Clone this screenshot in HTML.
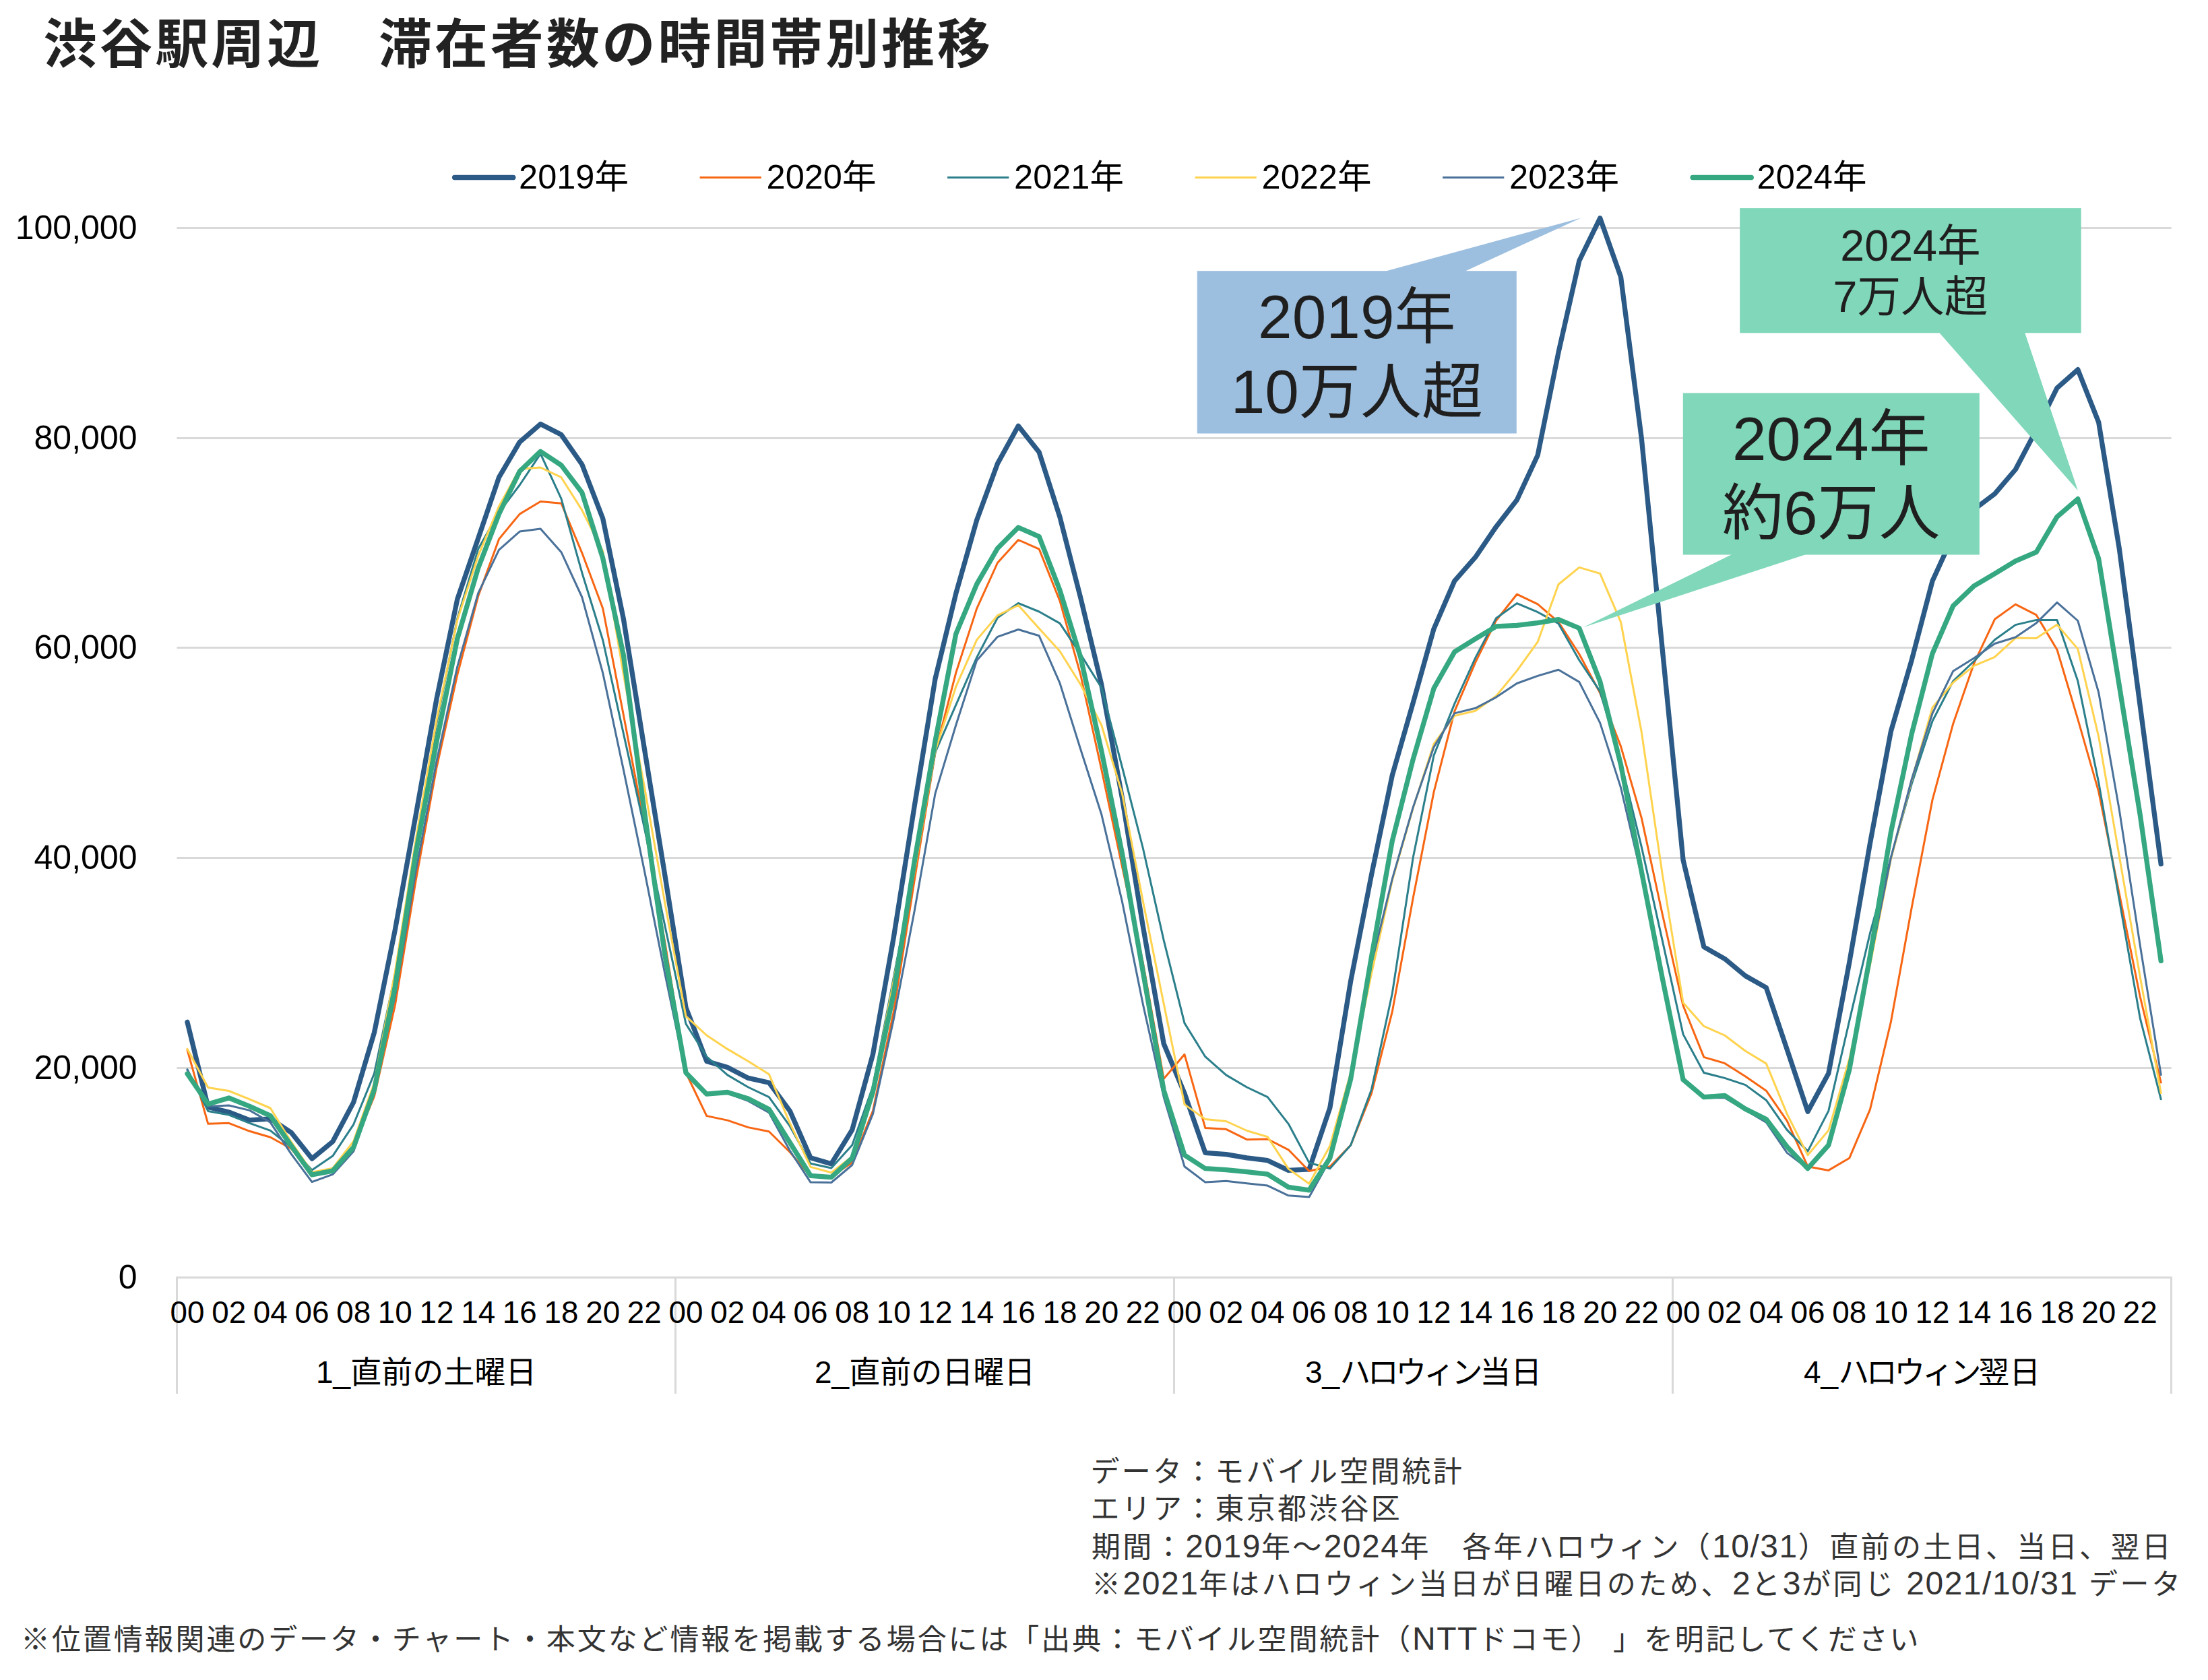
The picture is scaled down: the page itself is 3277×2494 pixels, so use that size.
<!DOCTYPE html>
<html lang="ja"><head><meta charset="utf-8"><title>渋谷駅周辺 滞在者数の時間帯別推移</title>
<style>
html,body{margin:0;padding:0;background:#fff;}
body{width:3277px;height:2494px;position:relative;overflow:hidden;font-family:"Liberation Sans","Noto Sans CJK JP",sans-serif;color:#000;}
.t{position:absolute;white-space:nowrap;line-height:1;}
#title{left:64.6px;top:27px;font-size:79px;font-weight:700;color:#222;font-family:"Liberation Sans","Noto Sans CJK JP",sans-serif;letter-spacing:3.9px;}
.yl{font-size:50px;text-align:right;width:200px;left:3.5px;}
.xl{font-size:45.8px;text-align:center;width:80px;}
.dl{font-size:46px;text-align:center;width:740px;}
.lg{font-size:50.5px;}
.k{letter-spacing:-4.4px;}
.co{position:absolute;text-align:center;color:#1f1f1f;white-space:nowrap;}
.n{font-size:48px;letter-spacing:1.5px;}
.note{position:absolute;white-space:nowrap;color:#333;font-size:43px;line-height:55.2px;font-family:"Liberation Sans","Noto Sans CJK JP",sans-serif;}
svg{position:absolute;left:0;top:0;}
</style></head><body>
<div id="title" class="t">渋谷駅周辺　滞在者数の時間帯別推移</div>
<svg width="3277" height="2494" viewBox="0 0 3277 2494" fill="none">
<line x1="262.5" y1="1585.50" x2="3222.6" y2="1585.50" stroke="#d9d9d9" stroke-width="3"/>
<line x1="262.5" y1="1273.50" x2="3222.6" y2="1273.50" stroke="#d9d9d9" stroke-width="3"/>
<line x1="262.5" y1="961.50" x2="3222.6" y2="961.50" stroke="#d9d9d9" stroke-width="3"/>
<line x1="262.5" y1="650.50" x2="3222.6" y2="650.50" stroke="#d9d9d9" stroke-width="3"/>
<line x1="262.5" y1="338.50" x2="3222.6" y2="338.50" stroke="#d9d9d9" stroke-width="3"/>
<line x1="261.2" y1="1896.50" x2="3224.0" y2="1896.50" stroke="#d9d9d9" stroke-width="3"/>
<line x1="262.50" y1="1896.50" x2="262.50" y2="2069" stroke="#d9d9d9" stroke-width="3"/>
<line x1="1002.50" y1="1896.50" x2="1002.50" y2="2069" stroke="#d9d9d9" stroke-width="3"/>
<line x1="1742.50" y1="1896.50" x2="1742.50" y2="2069" stroke="#d9d9d9" stroke-width="3"/>
<line x1="2482.50" y1="1896.50" x2="2482.50" y2="2069" stroke="#d9d9d9" stroke-width="3"/>
<line x1="3222.50" y1="1896.50" x2="3222.50" y2="2069" stroke="#d9d9d9" stroke-width="3"/>
<polyline points="278.0,1517.3 308.8,1643.4 339.7,1651.0 370.5,1662.9 401.3,1660.9 432.2,1681.3 463.0,1720.1 493.8,1694.8 524.7,1636.4 555.5,1532.8 586.3,1380.6 617.2,1209.7 648.0,1037.5 678.8,889.5 709.7,799.3 740.5,708.7 771.3,656.2 802.2,629.4 833.0,645.3 863.8,689.5 894.7,769.8 925.5,919.6 956.3,1111.2 987.2,1301.6 1018.0,1495.7 1048.8,1575.5 1079.7,1584.6 1110.5,1600.4 1141.3,1607.2 1172.2,1649.1 1203.0,1718.8 1233.8,1727.7 1264.7,1677.4 1295.5,1565.3 1326.3,1391.6 1357.2,1196.5 1388.0,1007.7 1418.8,880.8 1449.7,772.1 1480.5,688.3 1511.3,632.2 1542.2,671.3 1573.0,767.6 1603.8,887.6 1634.7,1015.9 1665.5,1184.9 1696.3,1375.0 1727.2,1549.5 1758.0,1623.1 1788.8,1711.4 1819.7,1713.6 1850.5,1718.8 1881.3,1722.7 1912.2,1737.4 1943.0,1735.8 1973.8,1644.6 2004.7,1456.1 2035.5,1298.6 2066.3,1151.0 2097.2,1043.3 2128.0,933.6 2158.8,862.3 2189.7,827.2 2220.5,781.9 2251.3,742.3 2282.2,675.7 2313.0,523.1 2343.8,387.2 2374.7,323.8 2405.5,411.0 2436.3,651.0 2467.2,963.6 2498.0,1276.6 2528.8,1405.7 2559.7,1423.3 2590.5,1448.7 2621.3,1466.1 2652.2,1557.8 2683.0,1650.2 2713.8,1593.6 2744.7,1428.8 2775.5,1251.7 2806.3,1086.1 2837.2,979.9 2868.0,862.5 2898.8,795.1 2929.7,756.3 2960.5,733.2 2991.3,697.0 3022.2,638.1 3053.0,575.9 3083.8,548.7 3114.7,626.8 3145.5,815.7 3176.3,1048.3 3207.2,1282.7" stroke="#2c5a86" stroke-width="7.3" stroke-linejoin="round" stroke-linecap="round"/>
<polyline points="278.0,1558.7 308.8,1668.3 339.7,1667.3 370.5,1679.3 401.3,1688.2 432.2,1705.2 463.0,1743.0 493.8,1737.1 524.7,1701.2 555.5,1627.5 586.3,1492.5 617.2,1306.7 648.0,1139.3 678.8,1001.6 709.7,885.0 740.5,800.4 771.3,763.1 802.2,744.5 833.0,747.2 863.8,820.8 894.7,903.2 925.5,1062.0 956.3,1224.6 987.2,1401.0 1018.0,1592.5 1048.8,1656.6 1079.7,1663.1 1110.5,1673.6 1141.3,1679.7 1172.2,1710.2 1203.0,1746.5 1233.8,1746.5 1264.7,1726.1 1295.5,1649.1 1326.3,1501.9 1357.2,1306.5 1388.0,1117.4 1418.8,998.6 1449.7,903.4 1480.5,835.5 1511.3,801.5 1542.2,815.1 1573.0,892.1 1603.8,1001.9 1634.7,1141.9 1665.5,1286.8 1696.3,1428.9 1727.2,1601.5 1758.0,1565.3 1788.8,1674.5 1819.7,1676.3 1850.5,1691.7 1881.3,1691.0 1912.2,1706.8 1943.0,1738.5 1973.8,1731.7 2004.7,1700.0 2035.5,1623.1 2066.3,1501.9 2097.2,1333.3 2128.0,1175.9 2158.8,1055.9 2189.7,983.4 2220.5,921.2 2251.3,882.2 2282.2,896.9 2313.0,923.4 2343.8,971.0 2374.7,1028.7 2405.5,1107.9 2436.3,1214.4 2467.2,1357.0 2498.0,1492.8 2528.8,1569.4 2559.7,1578.4 2590.5,1598.1 2621.3,1619.2 2652.2,1663.8 2683.0,1731.7 2713.8,1737.4 2744.7,1719.3 2775.5,1646.8 2806.3,1517.4 2837.2,1347.6 2868.0,1187.4 2898.8,1074.2 2929.7,984.9 2960.5,919.3 2991.3,897.1 3022.2,912.9 3053.0,964.5 3083.8,1067.6 3114.7,1175.1 3145.5,1327.6 3176.3,1480.0 3207.2,1607.0" stroke="#f76613" stroke-width="3.0" stroke-linejoin="round" stroke-linecap="round"/>
<polyline points="278.0,1587.6 308.8,1649.4 339.7,1655.0 370.5,1667.3 401.3,1678.3 432.2,1703.2 463.0,1737.1 493.8,1716.1 524.7,1669.3 555.5,1593.6 586.3,1446.3 617.2,1251.0 648.0,1073.4 678.8,918.2 709.7,815.1 740.5,760.8 771.3,720.0 802.2,673.6 833.0,740.4 863.8,850.2 894.7,950.3 925.5,1089.6 956.3,1228.8 987.2,1376.0 1018.0,1520.0 1048.8,1568.7 1079.7,1595.9 1110.5,1614.0 1141.3,1628.7 1172.2,1671.7 1203.0,1727.2 1233.8,1734.0 1264.7,1700.0 1295.5,1612.9 1326.3,1451.0 1357.2,1289.1 1388.0,1117.0 1418.8,1046.4 1449.7,975.9 1480.5,917.0 1511.3,895.5 1542.2,908.0 1573.0,925.4 1603.8,971.4 1634.7,1020.8 1665.5,1139.0 1696.3,1259.0 1727.2,1395.8 1758.0,1518.9 1788.8,1568.7 1819.7,1595.9 1850.5,1614.0 1881.3,1628.7 1912.2,1668.3 1943.0,1726.1 1973.8,1734.7 2004.7,1700.0 2035.5,1617.4 2066.3,1474.8 2097.2,1273.2 2128.0,1121.5 2158.8,1044.6 2189.7,976.6 2220.5,917.8 2251.3,895.6 2282.2,908.7 2313.0,925.7 2343.8,980.0 2374.7,1026.5 2405.5,1130.6 2436.3,1257.4 2467.2,1396.2 2498.0,1535.4 2528.8,1592.5 2559.7,1600.4 2590.5,1610.6 2621.3,1633.2 2652.2,1677.4 2683.0,1709.1 2713.8,1649.1 2744.7,1515.7 2775.5,1385.2 2806.3,1273.6 2837.2,1163.8 2868.0,1070.5 2898.8,1011.0 2929.7,981.5 2960.5,949.8 2991.3,927.6 3022.2,920.4 3053.0,920.4 3083.8,1011.0 3114.7,1161.6 3145.5,1336.7 3176.3,1511.9 3207.2,1631.8" stroke="#2b7f8b" stroke-width="3.0" stroke-linejoin="round" stroke-linecap="round"/>
<polyline points="278.0,1557.3 308.8,1614.5 339.7,1619.5 370.5,1631.8 401.3,1645.0 432.2,1695.2 463.0,1740.1 493.8,1734.1 524.7,1694.2 555.5,1607.5 586.3,1442.8 617.2,1246.3 648.0,1068.8 678.8,920.2 709.7,825.2 740.5,751.7 771.3,696.2 802.2,694.0 833.0,708.7 863.8,757.4 894.7,818.5 925.5,1002.0 956.3,1167.7 987.2,1342.5 1018.0,1508.7 1048.8,1537.0 1079.7,1557.4 1110.5,1575.5 1141.3,1594.7 1172.2,1667.2 1203.0,1732.4 1233.8,1740.8 1264.7,1717.0 1295.5,1617.4 1326.3,1455.5 1357.2,1293.6 1388.0,1114.7 1418.8,1019.2 1449.7,949.9 1480.5,913.6 1511.3,898.5 1542.2,932.9 1573.0,966.8 1603.8,1016.2 1634.7,1076.2 1665.5,1178.1 1696.3,1337.8 1727.2,1490.1 1758.0,1639.6 1788.8,1661.5 1819.7,1664.5 1850.5,1678.5 1881.3,1687.6 1912.2,1735.1 1943.0,1757.3 1973.8,1701.2 2004.7,1592.5 2035.5,1445.3 2066.3,1307.2 2097.2,1199.6 2128.0,1104.5 2158.8,1062.6 2189.7,1055.3 2220.5,1033.3 2251.3,995.9 2282.2,952.9 2313.0,867.5 2343.8,842.4 2374.7,851.4 2405.5,923.4 2436.3,1086.9 2467.2,1297.6 2498.0,1488.6 2528.8,1523.4 2559.7,1537.0 2590.5,1560.3 2621.3,1578.9 2652.2,1653.6 2683.0,1714.8 2713.8,1678.1 2744.7,1572.1 2775.5,1432.5 2806.3,1275.9 2837.2,1158.3 2868.0,1050.5 2898.8,1013.2 2929.7,988.3 2960.5,975.4 2991.3,947.1 3022.2,947.6 3053.0,927.2 3083.8,963.4 3114.7,1093.6 3145.5,1272.0 3176.3,1450.4 3207.2,1622.7" stroke="#ffd34e" stroke-width="3.0" stroke-linejoin="round" stroke-linecap="round"/>
<polyline points="278.0,1588.6 308.8,1642.4 339.7,1641.0 370.5,1648.4 401.3,1666.3 432.2,1713.2 463.0,1754.6 493.8,1743.4 524.7,1709.2 555.5,1619.5 586.3,1478.9 617.2,1293.1 648.0,1129.8 678.8,989.6 709.7,880.7 740.5,816.3 771.3,789.1 802.2,785.0 833.0,819.7 863.8,886.5 894.7,999.1 925.5,1143.4 956.3,1292.1 987.2,1447.1 1018.0,1594.7 1048.8,1624.2 1079.7,1623.1 1110.5,1634.4 1141.3,1651.8 1172.2,1708.0 1203.0,1755.1 1233.8,1755.5 1264.7,1729.5 1295.5,1653.6 1326.3,1513.2 1357.2,1352.3 1388.0,1178.1 1418.8,1076.2 1449.7,980.4 1480.5,945.3 1511.3,934.5 1542.2,943.8 1573.0,1014.2 1603.8,1112.5 1634.7,1208.7 1665.5,1338.7 1696.3,1490.6 1727.2,1628.7 1758.0,1731.7 1788.8,1755.1 1819.7,1753.3 1850.5,1756.7 1881.3,1760.1 1912.2,1774.8 1943.0,1777.0 1973.8,1721.6 2004.7,1597.0 2035.5,1430.8 2066.3,1304.9 2097.2,1198.5 2128.0,1109.1 2158.8,1058.9 2189.7,1051.3 2220.5,1035.1 2251.3,1014.5 2282.2,1003.4 2313.0,994.3 2343.8,1012.4 2374.7,1073.1 2405.5,1169.1 2436.3,1300.4 2467.2,1444.2 2498.0,1603.8 2528.8,1629.8 2559.7,1629.8 2590.5,1648.0 2621.3,1666.1 2652.2,1711.4 2683.0,1734.7 2713.8,1700.0 2744.7,1581.2 2775.5,1426.9 2806.3,1273.7 2837.2,1156.9 2868.0,1059.0 2898.8,996.2 2929.7,977.0 2960.5,955.5 2991.3,946.0 3022.2,924.9 3053.0,894.3 3083.8,921.5 3114.7,1028.0 3145.5,1203.2 3176.3,1403.9 3207.2,1595.5" stroke="#4a7199" stroke-width="3.0" stroke-linejoin="round" stroke-linecap="round"/>
<polyline points="278.0,1594.0 308.8,1639.0 339.7,1629.9 370.5,1642.4 401.3,1656.4 432.2,1700.8 463.0,1744.0 493.8,1738.1 524.7,1703.2 555.5,1617.5 586.3,1464.9 617.2,1265.6 648.0,1100.9 678.8,948.0 709.7,843.2 740.5,763.1 771.3,699.6 802.2,670.2 833.0,690.6 863.8,731.3 894.7,828.7 925.5,973.2 956.3,1204.8 987.2,1420.2 1018.0,1592.5 1048.8,1624.2 1079.7,1621.5 1110.5,1631.0 1141.3,1646.8 1172.2,1696.0 1203.0,1745.3 1233.8,1747.6 1264.7,1719.3 1295.5,1620.8 1326.3,1474.7 1357.2,1278.7 1388.0,1100.2 1418.8,940.8 1449.7,867.2 1480.5,814.0 1511.3,783.0 1542.2,796.6 1573.0,876.3 1603.8,975.9 1634.7,1114.5 1665.5,1267.1 1696.3,1442.3 1727.2,1618.5 1758.0,1714.8 1788.8,1734.7 1819.7,1736.7 1850.5,1739.7 1881.3,1743.1 1912.2,1762.3 1943.0,1766.8 1973.8,1719.3 2004.7,1601.5 2035.5,1420.3 2066.3,1248.3 2097.2,1127.2 2128.0,1021.9 2158.8,967.6 2189.7,948.3 2220.5,929.8 2251.3,928.4 2282.2,924.6 2313.0,919.6 2343.8,932.5 2374.7,1011.7 2405.5,1135.1 2436.3,1293.9 2467.2,1452.1 2498.0,1602.7 2528.8,1628.7 2559.7,1626.4 2590.5,1646.4 2621.3,1661.5 2652.2,1702.3 2683.0,1734.7 2713.8,1700.0 2744.7,1588.0 2775.5,1419.0 2806.3,1236.1 2837.2,1089.5 2868.0,970.2 2898.8,899.3 2929.7,869.8 2960.5,851.7 2991.3,832.9 3022.2,819.7 3053.0,767.2 3083.8,740.7 3114.7,829.5 3145.5,1018.9 3176.3,1210.2 3207.2,1426.4" stroke="#35a881" stroke-width="7.3" stroke-linejoin="round" stroke-linecap="round"/>
<line x1="674.6" y1="263.5" x2="761.8" y2="263.5" stroke="#2c5a86" stroke-width="7.3" stroke-linecap="round"/>
<line x1="1038.6" y1="263.5" x2="1129.8" y2="263.5" stroke="#f76613" stroke-width="3.0"/>
<line x1="1406.1" y1="263.5" x2="1497.3" y2="263.5" stroke="#2b7f8b" stroke-width="3.0"/>
<line x1="1773.6" y1="263.5" x2="1864.8" y2="263.5" stroke="#ffd34e" stroke-width="3.0"/>
<line x1="2141.1" y1="263.5" x2="2232.3" y2="263.5" stroke="#4a7199" stroke-width="3.0"/>
<line x1="2512.1" y1="263.5" x2="2599.3" y2="263.5" stroke="#35a881" stroke-width="7.3" stroke-linecap="round"/>
<polygon points="2055,403 2346.5,323.4 2173.7,403" fill="#9dbfdf"/>
<rect x="1776.8" y="402.2" width="474" height="241.3" fill="#9dbfdf"/>
<polygon points="2878.3,494 3083.9,728.3 3005.2,494" fill="#80d7ba"/>
<rect x="2582.2" y="309.1" width="506.5" height="185.2" fill="#80d7ba"/>
<polygon points="2570.4,823 2350,931.3 2680.4,823" fill="#80d7ba"/>
<rect x="2497.8" y="583.5" width="440" height="240" fill="#80d7ba"/>
</svg>
<div class="t yl" style="top:1870.5px">0</div>
<div class="t yl" style="top:1559.5px">20,000</div>
<div class="t yl" style="top:1247.5px">40,000</div>
<div class="t yl" style="top:935.5px">60,000</div>
<div class="t yl" style="top:624.5px">80,000</div>
<div class="t yl" style="top:312.5px">100,000</div>
<div class="t xl" style="left:238.0px;top:1926px">00</div>
<div class="t xl" style="left:299.7px;top:1926px">02</div>
<div class="t xl" style="left:361.3px;top:1926px">04</div>
<div class="t xl" style="left:423.0px;top:1926px">06</div>
<div class="t xl" style="left:484.7px;top:1926px">08</div>
<div class="t xl" style="left:546.3px;top:1926px">10</div>
<div class="t xl" style="left:608.0px;top:1926px">12</div>
<div class="t xl" style="left:669.7px;top:1926px">14</div>
<div class="t xl" style="left:731.3px;top:1926px">16</div>
<div class="t xl" style="left:793.0px;top:1926px">18</div>
<div class="t xl" style="left:854.7px;top:1926px">20</div>
<div class="t xl" style="left:916.3px;top:1926px">22</div>
<div class="t xl" style="left:978.0px;top:1926px">00</div>
<div class="t xl" style="left:1039.7px;top:1926px">02</div>
<div class="t xl" style="left:1101.3px;top:1926px">04</div>
<div class="t xl" style="left:1163.0px;top:1926px">06</div>
<div class="t xl" style="left:1224.7px;top:1926px">08</div>
<div class="t xl" style="left:1286.3px;top:1926px">10</div>
<div class="t xl" style="left:1348.0px;top:1926px">12</div>
<div class="t xl" style="left:1409.7px;top:1926px">14</div>
<div class="t xl" style="left:1471.3px;top:1926px">16</div>
<div class="t xl" style="left:1533.0px;top:1926px">18</div>
<div class="t xl" style="left:1594.7px;top:1926px">20</div>
<div class="t xl" style="left:1656.3px;top:1926px">22</div>
<div class="t xl" style="left:1718.0px;top:1926px">00</div>
<div class="t xl" style="left:1779.7px;top:1926px">02</div>
<div class="t xl" style="left:1841.3px;top:1926px">04</div>
<div class="t xl" style="left:1903.0px;top:1926px">06</div>
<div class="t xl" style="left:1964.7px;top:1926px">08</div>
<div class="t xl" style="left:2026.3px;top:1926px">10</div>
<div class="t xl" style="left:2088.0px;top:1926px">12</div>
<div class="t xl" style="left:2149.7px;top:1926px">14</div>
<div class="t xl" style="left:2211.3px;top:1926px">16</div>
<div class="t xl" style="left:2273.0px;top:1926px">18</div>
<div class="t xl" style="left:2334.7px;top:1926px">20</div>
<div class="t xl" style="left:2396.3px;top:1926px">22</div>
<div class="t xl" style="left:2458.0px;top:1926px">00</div>
<div class="t xl" style="left:2519.7px;top:1926px">02</div>
<div class="t xl" style="left:2581.3px;top:1926px">04</div>
<div class="t xl" style="left:2643.0px;top:1926px">06</div>
<div class="t xl" style="left:2704.7px;top:1926px">08</div>
<div class="t xl" style="left:2766.3px;top:1926px">10</div>
<div class="t xl" style="left:2828.0px;top:1926px">12</div>
<div class="t xl" style="left:2889.7px;top:1926px">14</div>
<div class="t xl" style="left:2951.3px;top:1926px">16</div>
<div class="t xl" style="left:3013.0px;top:1926px">18</div>
<div class="t xl" style="left:3074.7px;top:1926px">20</div>
<div class="t xl" style="left:3136.3px;top:1926px">22</div>
<div class="t dl" style="left:262.6px;top:2014px">1_直前の土曜日</div>
<div class="t dl" style="left:1002.6px;top:2014px">2_直前の日曜日</div>
<div class="t dl" style="left:1742.6px;top:2014px">3_<span class="k">ハロウィン</span>当日</div>
<div class="t dl" style="left:2482.6px;top:2014px">4_<span class="k">ハロウィン</span>翌日</div>
<div class="t lg" style="left:770.1px;top:238px">2019年</div>
<div class="t lg" style="left:1137.6px;top:238px">2020年</div>
<div class="t lg" style="left:1505.1px;top:238px">2021年</div>
<div class="t lg" style="left:1872.6px;top:238px">2022年</div>
<div class="t lg" style="left:2240.1px;top:238px">2023年</div>
<div class="t lg" style="left:2607.6px;top:238px">2024年</div>
<div class="co" style="left:1776.8px;top:402.2px;width:474px;font-size:91px;line-height:110.5px;padding-top:14px">2019年<br>10万人超</div>
<div class="co" style="left:2582.2px;top:309.1px;width:506.5px;font-size:64.6px;line-height:75.7px;padding-top:19.4px">2024年<br>7万人超</div>
<div class="co" style="left:2497.8px;top:583.5px;width:440px;font-size:91px;line-height:110.5px;padding-top:13px">2024年<br>約6万人</div>
<div class="note" id="n0" style="left:1618.5px;top:2158px;letter-spacing:3.2px">データ：モバイル空間統計</div>
<div class="note" id="n1" style="left:1618.5px;top:2213.2px;letter-spacing:3.25px">エリア：東京都渋谷区</div>
<div class="note" id="n2" style="left:1620px;top:2268.3px;letter-spacing:3.37px">期間：<span class="n">2019</span>年～<span class="n">2024</span>年　各年ハロウィン（<span class="n">10/31</span>）直前の土日、当日、翌日</div>
<div class="note" id="n3" style="left:1620px;top:2323.4px;letter-spacing:3.57px">※<span class="n">2021</span>年はハロウィン当日が日曜日のため、<span class="n">2</span>と<span class="n">3</span>が同じ <span class="n">2021/10/31</span> データ</div>
<div class="note" id="n4" style="left:31px;top:2405px;letter-spacing:2.9px">※位置情報関連のデータ・チャート・本文など情報を掲載する場合には「出典：モバイル空間統計（<span class="n">NTT</span>ドコモ）<span style="margin-left:38px">」</span>を明記してください</div>
</body></html>
